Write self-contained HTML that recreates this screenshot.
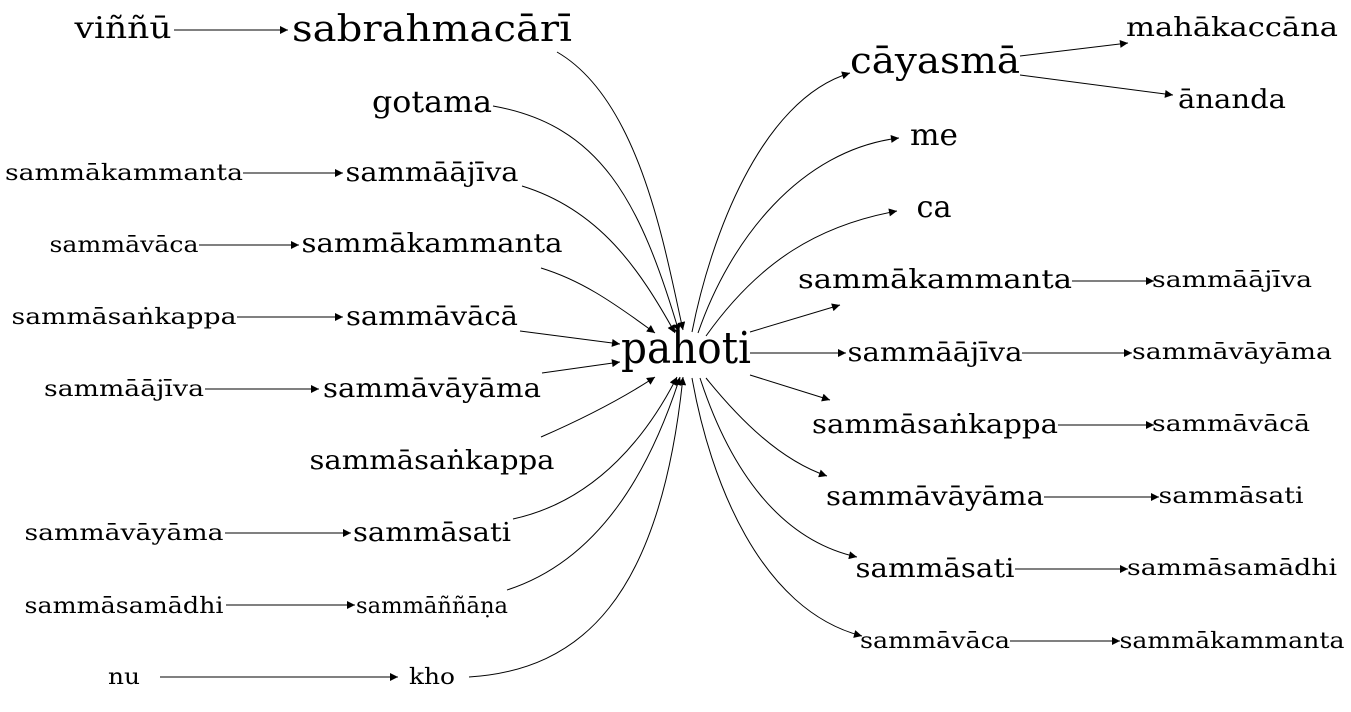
<!DOCTYPE html>
<html><head><meta charset="utf-8"><style>
html,body{margin:0;padding:0;background:#fff}
svg text{font-family:"DejaVu Serif","Liberation Serif",serif;fill:#000;text-anchor:middle}
</style></head><body>
<svg width="1351" height="707" viewBox="0 0 1351 707" xmlns="http://www.w3.org/2000/svg">
<defs><marker id="a" viewBox="0 0 10 10" refX="10" refY="5" markerWidth="12" markerHeight="8" markerUnits="userSpaceOnUse" orient="auto"><path d="M0,0L10,5L0,10z" fill="#000"/></marker></defs>
<g fill="none" stroke="#000" stroke-width="1" marker-end="url(#a)">
<path d="M174,30H288"/>
<path d="M243,173H343"/>
<path d="M199,245H299"/>
<path d="M237,317H343"/>
<path d="M205,389H319"/>
<path d="M225,533H351"/>
<path d="M226,605H355"/>
<path d="M160,677H398"/>
<path d="M557,52C640,100 665,250 683,330"/>
<path d="M493,106C600,125 640,200 679,332"/>
<path d="M522,186C600,210 640,270 675,333"/>
<path d="M541,268C580,280 610,300 655,333"/>
<path d="M520,331L620,344"/>
<path d="M542,373L620,362"/>
<path d="M541,437C580,420 620,400 655,377"/>
<path d="M513,519C600,500 650,430 677,377"/>
<path d="M507,590C600,560 650,470 680,377"/>
<path d="M469,677C580,670 660,600 683,377"/>
<path d="M692,332C710,240 760,100 850,73"/>
<path d="M698,333C730,240 800,150 899,138"/>
<path d="M706,336C760,260 820,225 897,211"/>
<path d="M750,332L840,305"/>
<path d="M750,353H846"/>
<path d="M750,375L830,400"/>
<path d="M706,378C740,420 780,460 827,476"/>
<path d="M700,378C730,470 780,540 857,557"/>
<path d="M692,378C710,480 760,610 862,636"/>
<path d="M1020,56L1128,43"/>
<path d="M1020,75L1173,95"/>
<path d="M1072,281H1154"/>
<path d="M1022,353H1132"/>
<path d="M1058,425H1154"/>
<path d="M1044,497H1159"/>
<path d="M1015,569H1128"/>
<path d="M1010,641H1120"/>
</g>
<g>
<text x="123" y="38" font-size="30" textLength="97" lengthAdjust="spacingAndGlyphs">viññū</text>
<text x="432" y="41" font-size="36" textLength="280" lengthAdjust="spacingAndGlyphs">sabrahmacārī</text>
<text x="432" y="112" font-size="30" textLength="120" lengthAdjust="spacingAndGlyphs">gotama</text>
<text x="124" y="180" font-size="22" textLength="238" lengthAdjust="spacingAndGlyphs">sammākammanta</text>
<text x="432" y="181" font-size="26" textLength="173" lengthAdjust="spacingAndGlyphs">sammāājīva</text>
<text x="124" y="252" font-size="22" textLength="149" lengthAdjust="spacingAndGlyphs">sammāvāca</text>
<text x="432" y="252" font-size="26" textLength="261" lengthAdjust="spacingAndGlyphs">sammākammanta</text>
<text x="124" y="324" font-size="22" textLength="225" lengthAdjust="spacingAndGlyphs">sammāsaṅkappa</text>
<text x="432" y="325" font-size="26" textLength="172" lengthAdjust="spacingAndGlyphs">sammāvācā</text>
<text x="124" y="396" font-size="22" textLength="160" lengthAdjust="spacingAndGlyphs">sammāājīva</text>
<text x="432" y="397" font-size="26" textLength="218" lengthAdjust="spacingAndGlyphs">sammāvāyāma</text>
<text x="432" y="469" font-size="26" textLength="245" lengthAdjust="spacingAndGlyphs">sammāsaṅkappa</text>
<text x="124" y="540" font-size="22" textLength="199" lengthAdjust="spacingAndGlyphs">sammāvāyāma</text>
<text x="432" y="541" font-size="26" textLength="158" lengthAdjust="spacingAndGlyphs">sammāsati</text>
<text x="124" y="613" font-size="22" textLength="199" lengthAdjust="spacingAndGlyphs">sammāsamādhi</text>
<text x="432" y="613" font-size="22" textLength="152" lengthAdjust="spacingAndGlyphs">sammāññāṇa</text>
<text x="124" y="684" font-size="22" textLength="32" lengthAdjust="spacingAndGlyphs">nu</text>
<text x="432" y="684" font-size="22" textLength="46" lengthAdjust="spacingAndGlyphs">kho</text>
<text x="686" y="363" font-size="44" textLength="130" lengthAdjust="spacingAndGlyphs">pahoti</text>
<text x="935" y="73" font-size="36" textLength="170" lengthAdjust="spacingAndGlyphs">cāyasmā</text>
<text x="1232" y="36" font-size="26" textLength="212" lengthAdjust="spacingAndGlyphs">mahākaccāna</text>
<text x="1232" y="108" font-size="26" textLength="108" lengthAdjust="spacingAndGlyphs">ānanda</text>
<text x="934" y="145" font-size="30" textLength="48" lengthAdjust="spacingAndGlyphs">me</text>
<text x="934" y="217" font-size="30" textLength="35" lengthAdjust="spacingAndGlyphs">ca</text>
<text x="935" y="288" font-size="26" textLength="274" lengthAdjust="spacingAndGlyphs">sammākammanta</text>
<text x="1232" y="287" font-size="22" textLength="160" lengthAdjust="spacingAndGlyphs">sammāājīva</text>
<text x="935" y="361" font-size="26" textLength="175" lengthAdjust="spacingAndGlyphs">sammāājīva</text>
<text x="1232" y="359" font-size="22" textLength="200" lengthAdjust="spacingAndGlyphs">sammāvāyāma</text>
<text x="935" y="433" font-size="26" textLength="246" lengthAdjust="spacingAndGlyphs">sammāsaṅkappa</text>
<text x="1231" y="431" font-size="22" textLength="158" lengthAdjust="spacingAndGlyphs">sammāvācā</text>
<text x="935" y="505" font-size="26" textLength="218" lengthAdjust="spacingAndGlyphs">sammāvāyāma</text>
<text x="1231" y="503" font-size="22" textLength="145" lengthAdjust="spacingAndGlyphs">sammāsati</text>
<text x="935" y="577" font-size="26" textLength="159" lengthAdjust="spacingAndGlyphs">sammāsati</text>
<text x="1232" y="575" font-size="22" textLength="210" lengthAdjust="spacingAndGlyphs">sammāsamādhi</text>
<text x="935" y="648" font-size="22" textLength="150" lengthAdjust="spacingAndGlyphs">sammāvāca</text>
<text x="1232" y="648" font-size="22" textLength="225" lengthAdjust="spacingAndGlyphs">sammākammanta</text>
</g>
</svg>
</body></html>
